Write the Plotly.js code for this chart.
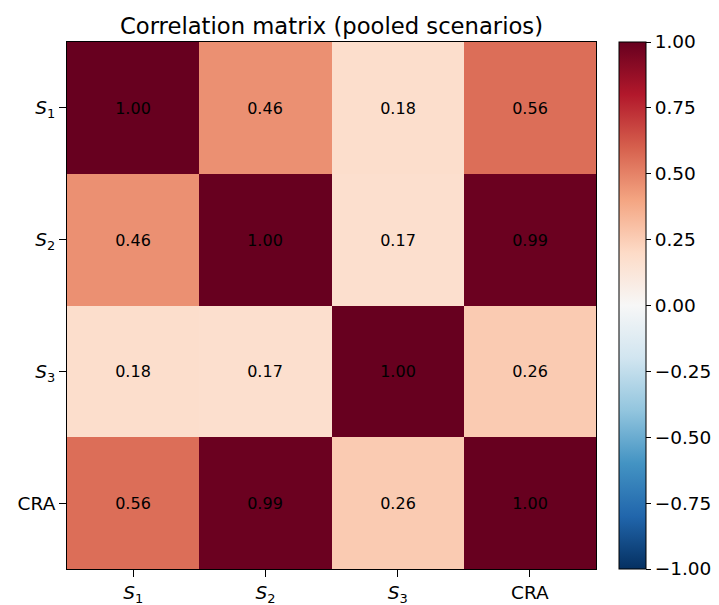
<!DOCTYPE html>
<html>
<head>
<meta charset="utf-8">
<script src="https://cdn.plot.ly/plotly-3.0.1.min.js"></script>
<style>html,body{margin:0;padding:0;background:#fff;}#chart{width:719px;height:605px;}</style>
</head>
<body>
<div id="chart"></div>
<script>
const labels = ['<i>S</i><sub>1</sub>', '<i>S</i><sub>2</sub>', '<i>S</i><sub>3</sub>', 'CRA'];
const row_S1 = [1.00, 0.46, 0.18, 0.56];
const row_S2 = [0.46, 1.00, 0.17, 0.99];
const row_S3 = [0.18, 0.17, 1.00, 0.26];
const row_CRA = [0.56, 0.99, 0.26, 1.00];
const cbTicks = [-1, -0.75, -0.5, -0.25, 0, 0.25, 0.5, 0.75, 1];

const rdbuR = [
  [0.0, '#053061'], [0.1, '#2166ac'], [0.2, '#4393c3'], [0.3, '#92c5de'],
  [0.4, '#d1e5f0'], [0.5, '#f7f7f7'], [0.6, '#fddbc7'], [0.7, '#f4a582'],
  [0.8, '#d6604d'], [0.9, '#b2182b'], [1.0, '#67001f']
];

const idx = [0, 1, 2, 3];
const trace = {
  type: 'heatmap',
  z: [row_S1, row_S2, row_S3, row_CRA],
  x: idx, y: idx,
  zmin: -1, zmax: 1,
  colorscale: rdbuR,
  texttemplate: '%{z:.2f}',
  textfont: {family: 'DejaVu Sans', size: 16, color: '#000'},
  hoverinfo: 'skip',
  colorbar: {
    x: 1.0435, xanchor: 'left', xref: 'paper',
    y: 0.5, yanchor: 'middle', len: 1, lenmode: 'fraction',
    thickness: 27, thicknessmode: 'pixels',
    outlinecolor: '#000', outlinewidth: 1,
    tickvals: cbTicks, tickformat: '.2f',
    ticks: 'outside', ticklen: 5, tickcolor: '#000',
    tickfont: {family: 'DejaVu Sans', size: 18.5, color: '#000'},
    xpad: 0, ypad: 0
  }
};

const axisCommon = {
  tickvals: idx, ticktext: labels,
  ticks: 'outside', ticklen: 7, tickcolor: '#000', tickwidth: 1,
  showline: true, linecolor: '#000', linewidth: 1, mirror: true,
  showgrid: false, zeroline: false,
  tickfont: {family: 'DejaVu Sans', size: 18.5, color: '#000'}
};

const layout = {
  width: 719, height: 605,
  margin: {l: 67, r: 123, t: 42, b: 36, autoexpand: false},
  paper_bgcolor: '#fff', plot_bgcolor: '#fff',
  title: {text: 'Correlation matrix (pooled scenarios)', x: 0.5, xref: 'paper', xanchor: 'center',
          y: 1, yref: 'paper', yanchor: 'bottom', pad: {b: 8},
          font: {family: 'DejaVu Sans', size: 22.7, color: '#000'}},
  xaxis: Object.assign({}, axisCommon, {range: [-0.5, 3.5]}),
  yaxis: Object.assign({}, axisCommon, {range: [3.5, -0.5]})
};

Plotly.newPlot('chart', [trace], layout, {displayModeBar: false, staticPlot: true});
</script>
</body>
</html>
